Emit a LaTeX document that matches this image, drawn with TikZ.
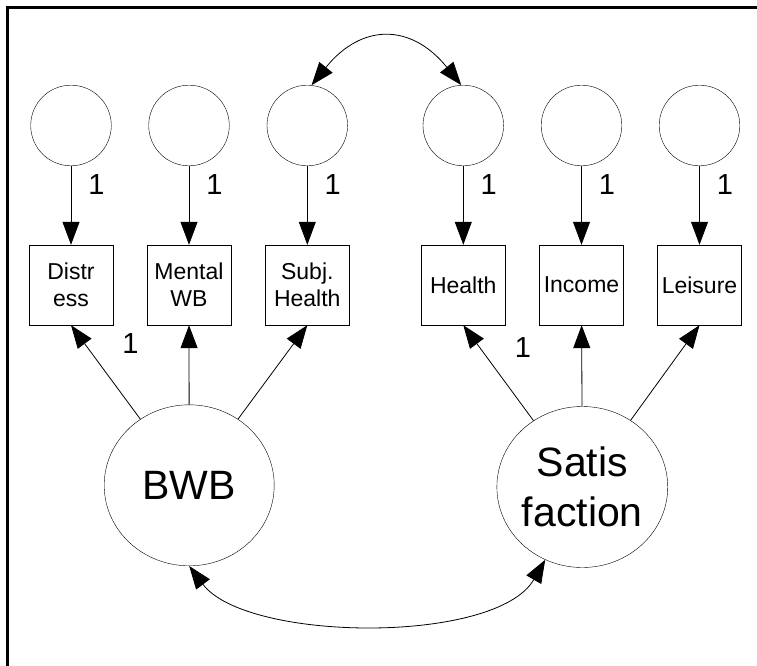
\documentclass[tikz,border=0pt]{standalone}
\usepackage{fontspec}
\setmainfont{Liberation Sans}
\usetikzlibrary{
    arrows.meta,
    shapes.geometric,
}

\begin{document}
\begin{tikzpicture}[
        x=1pt, y=-1pt,
        error/.style={draw, circle, minimum size=80.6pt, inner sep=0pt},
        indicator/.style={draw, rectangle, minimum width=84pt, minimum height=80pt,
            inner sep=0pt, align=center, font=\fontsize{23}{27}\selectfont},
        latent/.style={draw, ellipse, minimum width=170pt, minimum height=161pt,
            inner sep=0pt, align=center, font=\fontsize{41}{50}\selectfont},
        regpath/.style={-{Triangle[length=23pt, width=17pt]}, line width=0.8pt},
        covpath/.style={{Triangle[length=23pt, width=17pt]}-{Triangle[length=23pt, width=17pt]},
            line width=0.8pt},
        fixed/.style={font=\fontsize{29}{30}\selectfont, inner sep=0pt},
    ]
        \useasboundingbox (0,0) rectangle (757,666);

        % Frame
        \draw[line width=3pt] (7.3,666) -- (7.3,7.3) -- (757,7.3);

        % Error terms
        \node[error] (e1) at (71,125.5) {};
        \node[error] (e2) at (189,125.5) {};
        \node[error] (e3) at (307.3,125.5) {};
        \node[error] (e4) at (463.3,125.5) {};
        \node[error] (e5) at (581.5,125.5) {};
        \node[error] (e6) at (699.5,125.5) {};

        % Indicators
        \node[indicator] (distress) at (71,285) {Distr\\ess};
        \node[indicator] (mental) at (189,285) {Mental\\WB};
        \node[indicator] (subj) at (307.3,285) {Subj.\\Health};
        \node[indicator] (health) at (463.3,285) {Health};
        \node[indicator] (income) at (581.5,285) {Income};
        \node[indicator] (leisure) at (699.5,285) {Leisure};

        % Latent factors
        \node[latent] (bwb) at (189.2,485.3) {BWB};
        \node[latent] (sat) at (582.3,487) {Satis\\faction};

        % Error paths
        \draw[regpath] (e1) -- node[fixed, pos=.24, right=17pt] {1} (distress);
        \draw[regpath] (e2) -- node[fixed, pos=.24, right=17pt] {1} (mental);
        \draw[regpath] (e3) -- node[fixed, pos=.24, right=17pt] {1} (subj);
        \draw[regpath] (e4) -- node[fixed, pos=.24, right=17pt] {1} (health);
        \draw[regpath] (e5) -- node[fixed, pos=.24, right=17pt] {1} (income);
        \draw[regpath] (e6) -- node[fixed, pos=.24, right=17pt] {1} (leisure);

        % Loadings
        \draw[regpath] (bwb) -- node[fixed, pos=.8, right=37pt] {1} (distress.south);
        \draw[regpath] (bwb) -- (mental);
        \draw[regpath] (bwb) -- (subj.south);
        \draw[regpath] (sat) -- node[fixed, pos=.77, right=35pt] {1} (health.south);
        \draw[regpath] (sat) -- (income);
        \draw[regpath] (sat) -- (leisure.south);

        % Covariances
        \draw[covpath] (e3.84) .. controls +(50,-62) and +(-50,-62) .. (e4.93);
        \draw[covpath] (bwb.south) .. controls +(57,76) and +(-49,85) .. (sat.-117);
    \end{tikzpicture}
\end{document}
